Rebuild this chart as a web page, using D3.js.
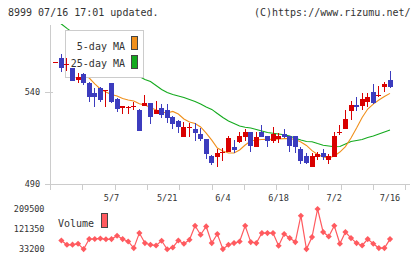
<!DOCTYPE html>
<html>
<head>
<meta charset="utf-8">
<title>8999</title>
<style>
  body { margin:0; padding:0; background:#fff; overflow:hidden; }
  svg { display:block; }
  text { font-family:"DejaVu Sans Mono", monospace; fill:#333; }
</style>
<script src="https://cdn.jsdelivr.net/npm/d3@7"></script>
</head>
<body>
<svg id="chart" width="420" height="259"></svg>
<script>
// trading days shown
var dates = ["4/18","4/21","4/22","4/23","4/24","4/25","4/28","4/30","5/1","5/2",
  "5/7","5/8","5/9","5/12","5/13","5/14","5/15","5/16","5/19","5/20",
  "5/21","5/22","5/23","5/26","5/27","5/28","5/29","5/30","6/2","6/3",
  "6/4","6/5","6/6","6/9","6/10","6/11","6/12","6/13","6/16","6/17",
  "6/18","6/19","6/20","6/23","6/24","6/25","6/26","6/27","6/30","7/1",
  "7/2","7/3","7/4","7/7","7/8","7/9","7/10","7/11","7/14","7/15","7/16"];

var open  = [555.5,558,554.6,552.7,546.3,549.4,544.9,539.1,541.8,540.5,
  544.6,535.9,531,531.6,532,530.1,532.3,533.7,527.8,531,
  530.1,526.5,524.3,515.6,520.4,519.8,517.1,514.2,505.2,504.8,
  507,507.5,509.9,512.9,515.6,518,509.9,518.3,516,513.5,
  514.4,517.1,516,516,508.8,505.2,499.4,504.8,506.6,503,
  504.8,517.8,519.6,529.7,532.8,532.4,534.6,539.8,538,542.7,546.3];
var high  = [556,560.4,558,553,550,550.3,545.4,541.8,542.7,541,
  544.9,536.4,532.5,532,534.6,530.5,538.2,534,535.1,533.3,
  533.2,527,524.5,523.7,522.9,522.9,520.2,514.5,505.5,509,
  509.3,516,513.8,518.3,519.6,518.2,518.3,522,516.2,520.7,
  517.5,519.6,516.2,516.2,510.2,506.6,506.6,507.5,508.8,506.3,
  518.3,522,530.1,535.1,537,539.5,539.5,544.2,543.1,545.3,551.2];
var low   = [555.5,550.8,551,546,544.5,543.6,534.6,531.9,534.6,531.9,
  534,529.2,527.9,527.9,530.1,518.5,532,522.5,527.8,525.6,
  523.2,519.6,517.8,515.6,515.6,513.3,513.3,503.5,500.3,499,
  502.5,507.5,507,512.4,513.5,507.5,509.9,515.6,509.9,512,
  512,514.8,507.5,506.6,500.7,501,499.4,503,503,500.7,
  504.8,516.5,519.6,524.7,529.7,530.1,531.9,533.2,537,539.7,541.8];
var close = [556,552.7,555.2,546,548.1,544.9,537,537,535.5,540.9,
  534.6,530.5,532.3,531.9,532.3,518.7,533.7,526.5,530.1,527.4,
  525.6,522.5,520.7,520.7,520.8,517.8,514.4,506.3,501.5,506.6,
  507.5,514.8,508.4,516,518,510.7,515.6,515.6,513.5,517.1,
  516,515.6,510.6,509.9,502.6,501.5,505.2,506.3,504.8,505.2,
  516,518.2,525,532.8,531.9,535.9,537,533.7,538.3,544.2,542.7];

var volume = [null,71800,52900,53500,57300,34100,77900,78500,80600,77000,
  78000,92400,77900,67400,38500,104200,60400,52900,49900,70500,
  33200,41100,71800,57300,74900,136300,96800,133200,60400,99900,
  34100,52900,60400,67400,136300,64800,60400,104200,104200,104000,
  48500,99900,82300,64800,180100,34000,86700,209500,108600,89300,
  136300,57300,108600,82300,60400,49900,77900,57300,38500,38500,77900];

var ma5 = [null,null,null,null,551.6,549.4,547.4,544.2,541.5,539.8,
  538.5,537.7,536.3,535.5,535,533.5,532.8,531.4,530.1,529,
  528.5,529.3,527.9,525.2,523.6,522.8,520.9,517.6,513.8,509.5,
  507.9,506.8,506.8,508.4,511.1,513.3,513.8,514.1,514.2,514.2,
  514.4,514.6,514.6,514.1,512.8,510.9,508.1,506,504.6,504.1,
  505.2,507.3,510.3,514.9,520.3,526,530.6,533.3,535.5,537.4,539.1];

var ma25 = [578.6,576.7,574.3,572.1,569.9,567.7,565.6,563.4,561.2,559.3,
  557.4,555.5,553.7,551.8,550.1,548.2,546.6,545.5,543.4,541.2,
  539.6,538.5,537.7,536.9,535.8,534.7,533.3,531.7,530.4,528.2,
  526,524.1,522.8,521.4,520.7,520.3,519.5,518.7,517.9,517.5,
  517.1,516.7,516,514.8,513.8,513,512.9,511.9,511,510.6,
  510.2,510.3,511.7,513,513.6,514.1,515.2,516,517.1,518.2,519.3];

var dateLabels = ["5/7","5/21","6/4","6/18","7/2","7/16"];
var priceTicks = [490, 540];
var volumeTicks = [33200, 121350, 209500];

var upColor = "#d90000", downColor = "#3c3cbe";
var ma5Color = "#f0901c", ma25Color = "#14aa1e", volColor = "#ff5a5f";
var axisColor = "#cccccc";

var svg = d3.select("#chart");
svg.append("rect").attr("width", 420).attr("height", 259).attr("fill", "#fff");

var x = d3.scalePoint().domain(dates).range([55.8, 390]);
var y = d3.scaleLinear().domain([490, 540]).range([184, 91.7]);
var yv = d3.scaleLinear().domain([33200, 209500]).range([249.3, 209]);
var grid = d3.scaleLinear().domain([0, 11]).range([50, 405.3]);

// header
svg.append("text").attr("x", 8).attr("y", 15.7).style("font-size", "10px")
  .text("8999 07/16 17:01 updated.");
svg.append("text").attr("x", 410.5).attr("y", 15.7).attr("text-anchor", "end")
  .style("font-size", "10px").text("(C)https://www.rizumu.net/");

// axes
var axes = svg.append("g").attr("stroke", axisColor).attr("shape-rendering", "crispEdges");
axes.append("line").attr("x1", 50.5).attr("x2", 50.5).attr("y1", 25).attr("y2", 190);
axes.append("line").attr("x1", 45).attr("x2", 410).attr("y1", Math.round(y(490)) + 0.5).attr("y2", Math.round(y(490)) + 0.5);
axes.selectAll(".ptick").data(priceTicks).enter().append("line")
  .attr("x1", 45).attr("x2", 53)
  .attr("y1", function(d){ return Math.round(y(d)) + 0.5; })
  .attr("y2", function(d){ return Math.round(y(d)) + 0.5; });

var bottom = svg.append("g").attr("transform", "translate(0," + Math.round(y(490)) + ")")
  .call(d3.axisBottom(grid).tickValues(d3.range(12)).tickSize(6).tickFormat(""));
bottom.select(".domain").remove();
bottom.selectAll("line").attr("stroke", axisColor).attr("shape-rendering", "crispEdges");

svg.selectAll(".plabel").data(priceTicks).enter().append("text")
  .attr("x", 40).attr("y", function(d){ return y(d); }).attr("dy", "0.35em")
  .attr("text-anchor", "end").style("font-size", "8.5px").text(function(d){ return d; });

svg.selectAll(".dlabel").data(dateLabels).enter().append("text")
  .attr("x", function(d){ return x(d); }).attr("y", 201)
  .attr("text-anchor", "middle").style("font-size", "8.5px").text(function(d){ return d; });

// moving averages, clipped to the plot
svg.append("clipPath").attr("id", "plot").append("rect")
  .attr("x", 50).attr("y", 24).attr("width", 360).attr("height", 160);

function maLine(vals) {
  return d3.line()
    .defined(function(d){ return d != null; })
    .x(function(d, i){ return x(dates[i]); })
    .y(function(d){ return y(d); })(vals);
}
var lines = svg.append("g").attr("clip-path", "url(#plot)").attr("fill", "none").attr("stroke-width", 1.1);
lines.append("path").attr("d", maLine(ma25)).attr("stroke", ma25Color);
lines.append("path").attr("d", maLine(ma5)).attr("stroke", ma5Color);

// legend box (over the lines, under the candles)
var leg = svg.append("g");
leg.append("rect").attr("x", 65.5).attr("y", 30.5).attr("width", 78).attr("height", 47)
  .attr("fill", "#fff").attr("stroke", axisColor);
leg.append("text").attr("x", 125).attr("y", 50).attr("text-anchor", "end")
  .style("font-size", "10px").text("5-day MA");
leg.append("text").attr("x", 125).attr("y", 67.3).attr("text-anchor", "end")
  .style("font-size", "10px").text("25-day MA");
leg.append("rect").attr("x", 131.5).attr("y", 36.5).attr("width", 6).attr("height", 13)
  .attr("fill", ma5Color).attr("stroke", "#444");
leg.append("rect").attr("x", 131.5).attr("y", 55.5).attr("width", 6).attr("height", 13)
  .attr("fill", ma25Color).attr("stroke", "#444");

// candles
var candles = svg.append("g").attr("shape-rendering", "crispEdges")
  .selectAll("g").data(dates).enter().append("g")
  .attr("fill", function(d, i){ return close[i] >= open[i] ? upColor : downColor; });

candles.append("rect")
  .attr("x", function(d){ return Math.round(x(d) - 2.5) + 2; })
  .attr("width", 1)
  .attr("y", function(d, i){ return y(high[i]); })
  .attr("height", function(d, i){ return Math.max(1, y(low[i]) - y(high[i])); });

candles.append("rect")
  .attr("x", function(d){ return Math.round(x(d) - 2.5); })
  .attr("width", 5)
  .attr("y", function(d, i){ return y(Math.max(open[i], close[i])); })
  .attr("height", function(d, i){ return Math.max(1, Math.abs(y(open[i]) - y(close[i]))); });

// volume panel
svg.selectAll(".vlabel").data(volumeTicks).enter().append("text")
  .attr("x", 44.5).attr("y", function(d){ return yv(d); }).attr("dy", "0.35em")
  .attr("text-anchor", "end").style("font-size", "8.5px").text(function(d){ return d; });

var volLine = d3.line()
  .defined(function(d){ return d != null; })
  .x(function(d, i){ return x(dates[i]); })
  .y(function(d){ return yv(d); });
svg.append("path").attr("d", volLine(volume)).attr("fill", "none")
  .attr("stroke", volColor).attr("stroke-width", 1.2);

var diamond = d3.symbol().type(d3.symbolDiamond2).size(24);
svg.selectAll(".vdot").data(dates).enter()
  .filter(function(d, i){ return volume[i] != null; })
  .append("path")
  .attr("d", diamond)
  .attr("fill", volColor)
  .attr("transform", function(d){ var i = dates.indexOf(d); return "translate(" + x(d) + "," + yv(volume[i]) + ")"; });

svg.append("text").attr("x", 58).attr("y", 226.7).style("font-size", "10px").text("Volume");
svg.append("rect").attr("x", 101.5).attr("y", 213.5).attr("width", 6).attr("height", 14)
  .attr("fill", volColor).attr("stroke", "#444");
</script>
</body>
</html>
